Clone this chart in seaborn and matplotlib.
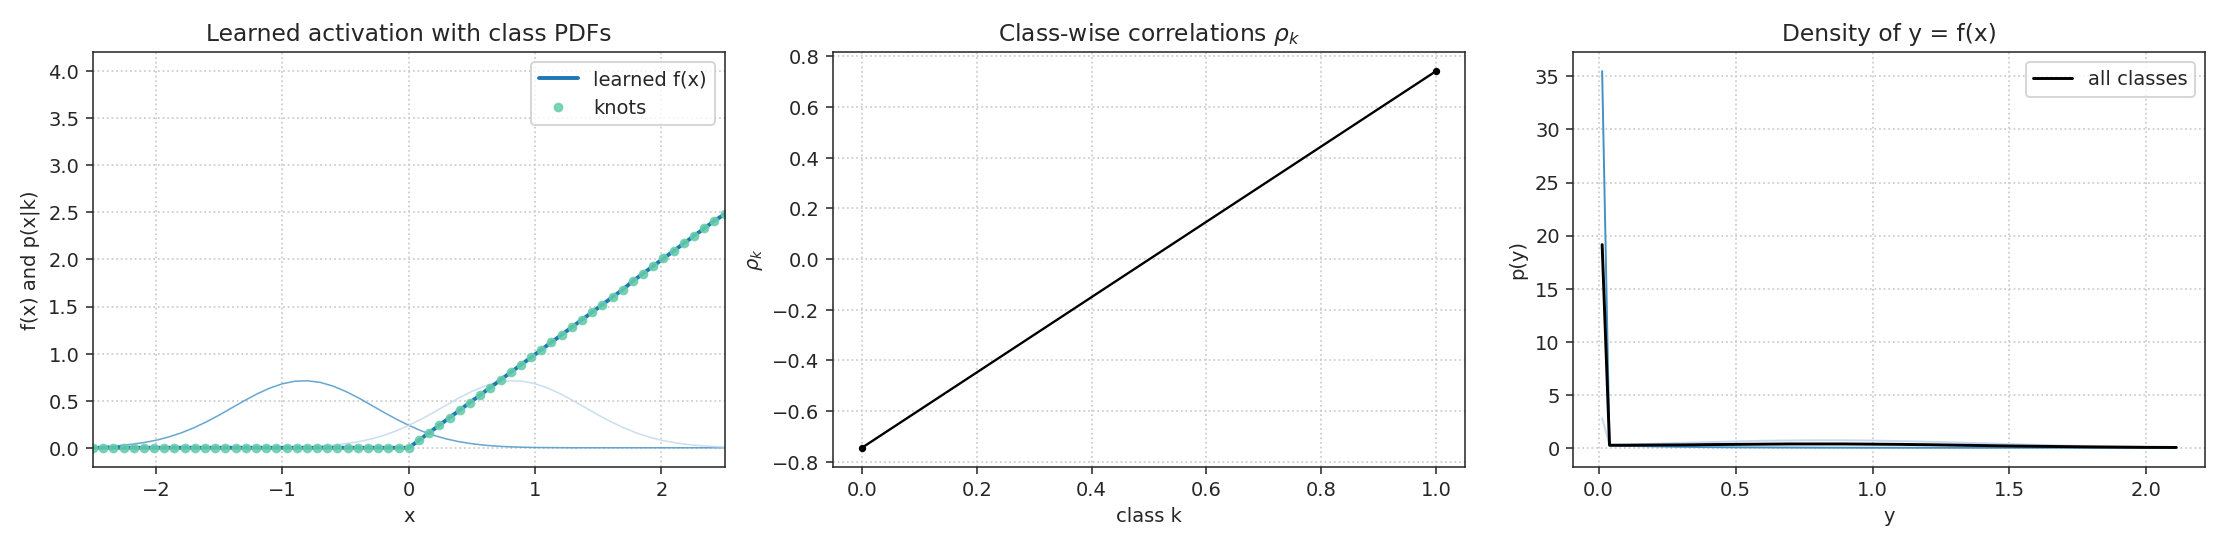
import numpy as np
import matplotlib
matplotlib.use("Agg")
import matplotlib.pyplot as plt
import seaborn as sns

# --- panel 1: learned activation (knots) and class PDFs ---
knot_x = [-2.5, -2.419, -2.339, -2.258, -2.177, -2.097, -2.016, -1.935, -1.855, -1.774,
          -1.694, -1.613, -1.532, -1.452, -1.371, -1.290, -1.210, -1.129, -1.048, -0.968,
          -0.887, -0.806, -0.726, -0.645, -0.565, -0.484, -0.403, -0.323, -0.242, -0.161,
          -0.081, 0.0, 0.081, 0.161, 0.242, 0.323, 0.403, 0.484, 0.565, 0.645,
          0.726, 0.806, 0.887, 0.968, 1.048, 1.129, 1.210, 1.290, 1.371, 1.452,
          1.532, 1.613, 1.694, 1.774, 1.855, 1.935, 2.016, 2.097, 2.177, 2.258,
          2.339, 2.419, 2.5]
knot_y = [0.0] * 32 + [0.08, 0.16, 0.24, 0.32, 0.40, 0.48, 0.56, 0.64,
                       0.72, 0.80, 0.88, 0.96, 1.04, 1.12, 1.20, 1.28, 1.36, 1.44,
                       1.52, 1.60, 1.68, 1.77, 1.85, 1.93, 2.01, 2.09, 2.17, 2.25,
                       2.33, 2.41, 2.48]

pdf_x = np.linspace(-2.5, 2.5, 51)
pdf_class0 = [0.008, 0.014, 0.023, 0.036, 0.055, 0.080, 0.115, 0.159, 0.213, 0.277,
              0.348, 0.425, 0.501, 0.573, 0.634, 0.680, 0.707, 0.711, 0.694, 0.655,
              0.599, 0.531, 0.455, 0.378, 0.305, 0.238, 0.179, 0.131, 0.093, 0.064,
              0.043, 0.027, 0.017, 0.010, 0.006, 0.003, 0.002, 0.001, 0.0, 0.0,
              0.0, 0.0, 0.0, 0.0, 0.0, 0.0, 0.0, 0.0, 0.0, 0.0, 0.0]
pdf_class1 = [0.0, 0.0, 0.0, 0.0, 0.0, 0.0, 0.0, 0.0, 0.0, 0.0,
              0.0, 0.0, 0.0, 0.001, 0.002, 0.003, 0.006, 0.010, 0.017, 0.027,
              0.043, 0.064, 0.093, 0.131, 0.179, 0.238, 0.305, 0.378, 0.455, 0.531,
              0.599, 0.655, 0.694, 0.711, 0.707, 0.680, 0.634, 0.573, 0.501, 0.425,
              0.348, 0.277, 0.213, 0.159, 0.115, 0.080, 0.055, 0.036, 0.023, 0.014, 0.008]

# --- panel 2: class-wise correlations ---
classes = [0, 1]
rho = [-0.745, 0.742]

# --- panel 3: density of y = f(x) ---
y_bins = [0.013, 0.04, 0.1, 0.2, 0.3, 0.4, 0.5, 0.6, 0.7, 0.8, 0.9, 1.0, 1.1,
          1.2, 1.3, 1.4, 1.5, 1.6, 1.7, 1.8, 1.9, 2.0, 2.109]
py_class0 = [35.5, 0.21, 0.18, 0.13, 0.09, 0.06, 0.04, 0.03, 0.02, 0.01, 0.006, 0.003, 0.002,
             0.001, 0.0, 0.0, 0.0, 0.0, 0.0, 0.0, 0.0, 0.0, 0.0]
py_class1 = [2.8, 0.26, 0.31, 0.38, 0.46, 0.53, 0.60, 0.66, 0.69, 0.71, 0.71, 0.68, 0.63,
             0.57, 0.50, 0.43, 0.35, 0.28, 0.21, 0.16, 0.12, 0.08, 0.05]
py_all = [19.15, 0.24, 0.24, 0.26, 0.27, 0.30, 0.32, 0.34, 0.36, 0.36, 0.36, 0.34, 0.32,
          0.29, 0.25, 0.21, 0.17, 0.14, 0.11, 0.08, 0.06, 0.04, 0.03]

c0 = "#4292c6"
c1 = "#c6dbef"

sns.set_style("ticks")
plt.rcParams["axes.grid"] = True
plt.rcParams["grid.linestyle"] = ":"
plt.rcParams["grid.color"] = "#cccccc"
plt.rcParams["grid.linewidth"] = 0.9

fig, axes = plt.subplots(1, 3, figsize=(15.9, 3.91), dpi=140)

ax = axes[0]
sns.lineplot(x=pdf_x, y=pdf_class0, ax=ax, color=c0, lw=0.8, alpha=0.8)
sns.lineplot(x=pdf_x, y=pdf_class1, ax=ax, color=c1, lw=0.8, alpha=0.9)
sns.lineplot(x=knot_x, y=knot_y, ax=ax, color="#1f77b4", lw=2, label="learned f(x)")
ax.plot(knot_x, knot_y, "o", color="mediumaquamarine", ms=4, alpha=0.85, label="knots")
ax.set_xlim(-2.5, 2.5)
ax.set_ylim(-0.2, 4.2)
ax.set_title("Learned activation with class PDFs")
ax.set_xlabel("x")
ax.set_ylabel("f(x) and p(x|k)")
ax.legend(loc="upper right")

ax = axes[1]
sns.lineplot(x=classes, y=rho, ax=ax, color="black", lw=1.2, marker="o", markersize=3,
             markeredgecolor="black")
ax.set_title(r"Class-wise correlations $\rho_k$")
ax.set_xlabel("class k")
ax.set_ylabel(r"$\rho_k$")

ax = axes[2]
sns.lineplot(x=y_bins, y=py_class0, ax=ax, color=c0, lw=1)
sns.lineplot(x=y_bins, y=py_class1, ax=ax, color=c1, lw=1)
sns.lineplot(x=y_bins, y=py_all, ax=ax, color="black", lw=1.5, label="all classes")
ax.set_title("Density of y = f(x)")
ax.set_xlabel("y")
ax.set_ylabel("p(y)")
ax.legend(loc="upper right")

for ax in axes:
    ax.grid(True, linestyle=":", color="#cccccc", linewidth=0.9)

plt.tight_layout()
plt.savefig("out.png", dpi=140)
